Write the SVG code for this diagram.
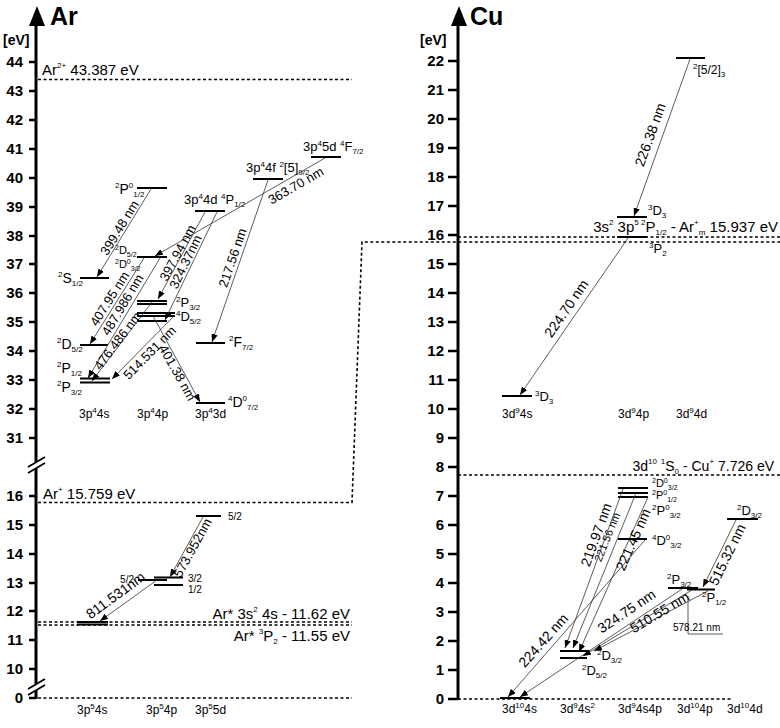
<svg xmlns="http://www.w3.org/2000/svg" width="780" height="728" viewBox="0 0 780 728">
<defs>
<marker id="ah" viewBox="0 0 10 8" refX="10" refY="4" markerWidth="8" markerHeight="6.4" markerUnits="userSpaceOnUse" orient="auto"><path d="M0,0 L10,4 L0,8 z" fill="#000"/></marker>
<style>
text{font-family:"Liberation Sans",Arial,sans-serif;fill:#000}
.ax{stroke:#000;stroke-width:3;fill:none}
.tk{stroke:#000;stroke-width:2.5}
.tl{font-size:15px;font-weight:bold;text-anchor:end}
.ttl{font-size:25px;font-weight:bold}
.ev{font-size:14px;font-weight:bold}
.lv{stroke:#000;stroke-width:2}
.tr{stroke:#333;stroke-width:0.8;fill:none;marker-end:url(#ah)}
.pl{stroke:#333;stroke-width:0.8;fill:none}
.dt{stroke:#000;stroke-width:1.6;stroke-dasharray:3 2.5;fill:none}
.t15{font-size:15px}
.t14{font-size:14px}
.t13{font-size:13px}
.t12{font-size:12px}
.t11{font-size:11px}
.t10{font-size:10px}
.s{font-size:8px}
.s7{font-size:7px}
.wl{font-size:13px;text-anchor:middle}
.ws{font-size:11px;text-anchor:middle}
.end{text-anchor:end}
</style>
</defs>

<g id="ar-axis">
<polygon points="37,6 29,26 45,26" fill="#000"/>
<path class="ax" d="M36,24 V462 M36,468 V684 M36,690 V699"/>
<path stroke="#000" stroke-width="1.8" d="M28,467 L45,457 M28,473 L45,463 M28,689 L45,679 M28,695 L45,685"/>
<text class="ttl" x="50" y="25">Ar</text>
<text class="ev" x="3" y="45">[eV]</text>
<path class="tk" d="M29,62H36 M29,91H36 M29,120H36 M29,149H36 M29,178H36 M29,207H36 M29,236H36 M29,264H36 M29,293H36 M29,322H36 M29,351H36 M29,380H36 M29,409H36 M29,438H36 M29,496H36 M29,525H36 M29,554H36 M29,583H36 M29,611H36 M29,640H36 M29,669H36 M29,698H36"/>
<g class="tl">
<text x="23" y="67">44</text><text x="23" y="96">43</text><text x="23" y="125">42</text><text x="23" y="154">41</text><text x="23" y="183">40</text><text x="23" y="212">39</text><text x="23" y="241">38</text><text x="23" y="269">37</text><text x="23" y="298">36</text><text x="23" y="327">35</text><text x="23" y="356">34</text><text x="23" y="385">33</text><text x="23" y="414">32</text><text x="23" y="443">31</text>
<text x="23" y="501">16</text><text x="23" y="530">15</text><text x="23" y="559">14</text><text x="23" y="588">13</text><text x="23" y="616">12</text><text x="23" y="645">11</text><text x="23" y="674">10</text><text x="23" y="703">0</text>
</g>
</g>

<g id="cu-axis">
<polygon points="459,6 451,26 467,26" fill="#000"/>
<path class="ax" d="M458,24 V700"/>
<text class="ttl" x="470" y="25">Cu</text>
<text class="ev" x="420" y="45">[eV]</text>
<path class="tk" d="M448,61H458 M448,90H458 M448,119H458 M448,148H458 M448,177H458 M448,206H458 M448,235H458 M448,264H458 M448,293H458 M448,322H458 M448,351H458 M448,380H458 M448,409H458 M448,438H458 M448,467H458 M448,496H458 M448,525H458 M448,554H458 M448,583H458 M448,612H458 M448,641H458 M448,670H458 M448,699H458"/>
<g class="tl">
<text x="444" y="66">22</text><text x="444" y="95">21</text><text x="444" y="124">20</text><text x="444" y="153">19</text><text x="444" y="182">18</text><text x="444" y="211">17</text><text x="444" y="240">16</text><text x="444" y="269">15</text><text x="444" y="298">14</text><text x="444" y="327">13</text><text x="444" y="356">12</text><text x="444" y="385">11</text><text x="444" y="414">10</text><text x="444" y="443">9</text><text x="444" y="472">8</text><text x="444" y="501">7</text><text x="444" y="530">6</text><text x="444" y="559">5</text><text x="444" y="588">4</text><text x="444" y="617">3</text><text x="444" y="646">2</text><text x="444" y="675">1</text><text x="444" y="704">0</text>
</g>
</g>

<g id="limits">
<path class="dt" d="M38,79.5H352"/>
<text class="t15" x="42" y="75">Ar<tspan class="s" dy="-7">2+</tspan><tspan dy="7"> 43.387 eV</tspan></text>
<path class="dt" d="M38,502.5H352L362,242H780"/>
<text class="t15" x="43" y="499">Ar<tspan class="s" dy="-7">+</tspan><tspan dy="7"> 15.759 eV</tspan></text>
<path class="dt" d="M38,622H352 M38,625H352"/>
<text class="t15 end" x="350" y="619">Ar* 3s<tspan class="s" dy="-7">2</tspan><tspan dy="7"> 4s - 11.62 eV</tspan></text>
<text class="t15 end" x="350" y="641">Ar* <tspan class="s" dy="-7">3</tspan><tspan dy="7">P</tspan><tspan class="s" dy="3">2</tspan><tspan dy="-3"> - 11.55 eV</tspan></text>
<path class="dt" d="M38,698H352"/>
<path class="dt" d="M458,237H780"/>
<text class="t15 end" x="778" y="232">3s<tspan class="s" dy="-7">2</tspan><tspan dy="7"> 3p</tspan><tspan class="s" dy="-7">5 2</tspan><tspan dy="7">P</tspan><tspan class="s" dy="3">1/2</tspan><tspan dy="-3"> - Ar</tspan><tspan class="s" dy="-7">+</tspan><tspan class="s" dy="10">m</tspan><tspan dy="-3"> 15.937 eV</tspan></text>
<path class="dt" d="M458,475H780"/>
<text class="t14 end" x="774" y="471">3d<tspan class="s" dy="-7">10</tspan><tspan dy="7"> </tspan><tspan class="s" dy="-7">1</tspan><tspan dy="7">S</tspan><tspan class="s" dy="3">0</tspan><tspan dy="-3"> - Cu</tspan><tspan class="s" dy="-7">+</tspan><tspan dy="7"> 7.726 eV</tspan></text>
<path class="dt" d="M458,699H733"/>
</g>

<g id="ar-levels">
<g id="ar-2P0-12"><path class="lv" d="M137,188H167"/><text class="t14" x="115" y="194"><tspan class="s" dy="-6">2</tspan><tspan dy="6">P</tspan><tspan class="s" dy="-6">0</tspan><tspan class="s" dy="9">1/2</tspan></text></g>
<g id="ar-2S12"><path class="lv" d="M80,278H109"/><text class="t14" x="58" y="283"><tspan class="s" dy="-6">2</tspan><tspan dy="6">S</tspan><tspan class="s" dy="3">1/2</tspan></text></g>
<g id="ar-2D0"><path class="lv" d="M137,257H167"/><text class="t11" x="115" y="254"><tspan class="s7" dy="-4">2</tspan><tspan dy="4">D</tspan><tspan class="s7" dy="3">5/2</tspan></text><text class="t11" x="115" y="268"><tspan class="s7" dy="-4">2</tspan><tspan dy="4">D</tspan><tspan class="s7" dy="-4">0</tspan><tspan class="s7" dy="7">3/2</tspan></text></g>
<g id="ar-4d-4P12"><path class="lv" d="M195,211H225"/><text class="t13" x="184" y="204">3p<tspan class="s" dy="-5">4</tspan><tspan dy="5">4d </tspan><tspan class="s" dy="-5">4</tspan><tspan dy="5">P</tspan><tspan class="s" dy="3">1/2</tspan></text></g>
<g id="ar-4f"><path class="lv" d="M253,179H283"/><text class="t13" x="246" y="172">3p<tspan class="s" dy="-5">4</tspan><tspan dy="5">4f </tspan><tspan class="s" dy="-5">2</tspan><tspan dy="5">[5]</tspan><tspan class="s" dy="3">9/2</tspan></text></g>
<g id="ar-5d-4F72"><path class="lv" d="M311,157H341"/><text class="t13" x="303" y="151">3p<tspan class="s" dy="-5">4</tspan><tspan dy="5">5d </tspan><tspan class="s" dy="-5">4</tspan><tspan dy="5">F</tspan><tspan class="s" dy="3">7/2</tspan></text></g>
<g id="ar-4p-group"><path class="lv" d="M137,301H167 M137,304H167 M137,313H175 M137,316H175 M137,321H167"/>
<text class="t13" x="176" y="307"><tspan class="s" dy="-5">2</tspan><tspan dy="5">P</tspan><tspan class="s" dy="3">3/2</tspan></text>
<text class="t13" x="176" y="321"><tspan class="s" dy="-5">4</tspan><tspan dy="5">D</tspan><tspan class="s" dy="3">5/2</tspan></text></g>
<g id="ar-4s-2D52"><path class="lv" d="M80,345H108"/><text class="t14" x="57" y="349"><tspan class="s" dy="-6">2</tspan><tspan dy="6">D</tspan><tspan class="s" dy="3">5/2</tspan></text></g>
<g id="ar-4s-2P"><path class="lv" d="M80,378.5H110 M80,382.5H110"/><text class="t14" x="57" y="373"><tspan class="s" dy="-6">2</tspan><tspan dy="6">P</tspan><tspan class="s" dy="3">1/2</tspan></text><text class="t14" x="57" y="392"><tspan class="s" dy="-6">2</tspan><tspan dy="6">P</tspan><tspan class="s" dy="3">3/2</tspan></text></g>
<g id="ar-3d-2F72"><path class="lv" d="M196,343H225"/><text class="t14" x="229" y="347"><tspan class="s" dy="-6">2</tspan><tspan dy="6">F</tspan><tspan class="s" dy="3">7/2</tspan></text></g>
<g id="ar-3d-4D72"><path class="lv" d="M196,403H225"/><text class="t14" x="228" y="407"><tspan class="s" dy="-6">4</tspan><tspan dy="6">D</tspan><tspan class="s" dy="-6">0</tspan><tspan class="s" dy="9">7/2</tspan></text></g>
<g id="ar-config-upper" class="t12"><text x="79" y="418">3p<tspan class="s" dy="-5">4</tspan><tspan dy="5">4s</tspan></text><text x="137" y="418">3p<tspan class="s" dy="-5">4</tspan><tspan dy="5">4p</tspan></text><text x="195" y="418">3p<tspan class="s" dy="-5">4</tspan><tspan dy="5">3d</tspan></text></g>
<g id="ar-5d-52"><path class="lv" d="M196,516H221"/><text class="t10" x="228" y="520">5/2</text></g>
<g id="ar-4p-lower"><path class="lv" d="M138,580H167 M154,577.5H183 M154,585H183"/><text class="t10 end" x="134" y="583">5/2</text><text class="t10" x="188" y="582">3/2</text><text class="t10" x="188" y="593">1/2</text></g>
<g id="ar-4s-lower"><path class="lv" d="M77,622H108 M77,624.5H108"/></g>
<g id="ar-config-lower" class="t12"><text x="77" y="714">3p<tspan class="s" dy="-5">5</tspan><tspan dy="5">4s</tspan></text><text x="146" y="714">3p<tspan class="s" dy="-5">5</tspan><tspan dy="5">4p</tspan></text><text x="195" y="714">3p<tspan class="s" dy="-5">5</tspan><tspan dy="5">5d</tspan></text></g>
</g>

<g id="cu-levels">
<g id="cu-5-2-3"><path class="lv" d="M676,58H705"/><text class="t12" x="693" y="74"><tspan class="s" dy="-5">2</tspan><tspan dy="5">[5/2]</tspan><tspan class="s" dy="3">3</tspan></text></g>
<g id="cu-3D3-up"><path class="lv" d="M617,217H647"/><text class="t13" x="648" y="215"><tspan class="s" dy="-5">3</tspan><tspan dy="5">D</tspan><tspan class="s" dy="3">3</tspan></text></g>
<g id="cu-3P2"><path class="lv" d="M617,237H647"/><text class="t13" x="649" y="253"><tspan class="s" dy="-5">3</tspan><tspan dy="5">P</tspan><tspan class="s" dy="3">2</tspan></text></g>
<g id="cu-3D3-low"><path class="lv" d="M502,396H532"/><text class="t13" x="535" y="401"><tspan class="s" dy="-5">3</tspan><tspan dy="5">D</tspan><tspan class="s" dy="3">3</tspan></text></g>
<g id="cu-config-mid" class="t12"><text x="502" y="418">3d<tspan class="s" dy="-5">9</tspan><tspan dy="5">4s</tspan></text><text x="618" y="418">3d<tspan class="s" dy="-5">9</tspan><tspan dy="5">4p</tspan></text><text x="676" y="418">3d<tspan class="s" dy="-5">9</tspan><tspan dy="5">4d</tspan></text></g>
<g id="cu-4s4p-group"><path class="lv" d="M618,488H648" stroke-width="3"/><path class="lv" d="M618,493H648 M618,497H648"/>
<text class="t11" x="652" y="487"><tspan class="s7" dy="-4">2</tspan><tspan dy="4">D</tspan><tspan class="s7" dy="-4">0</tspan><tspan class="s7" dy="7">3/2</tspan></text>
<text class="t11" x="652" y="499"><tspan class="s7" dy="-4">2</tspan><tspan dy="4">P</tspan><tspan class="s7" dy="-4">0</tspan><tspan class="s7" dy="7">1/2</tspan></text>
<text class="t13" x="652" y="515"><tspan class="s" dy="-5">2</tspan><tspan dy="5">P</tspan><tspan class="s" dy="-5">0</tspan><tspan class="s" dy="8">3/2</tspan></text></g>
<g id="cu-4D0"><path class="lv" d="M618,539H647"/><text class="t13" x="652" y="545"><tspan class="s" dy="-5">4</tspan><tspan dy="5">D</tspan><tspan class="s" dy="-5">0</tspan><tspan class="s" dy="8">3/2</tspan></text></g>
<g id="cu-4d-2D32"><path class="lv" d="M727,519H758"/><text class="t13" x="737" y="515"><tspan class="s" dy="-5">2</tspan><tspan dy="5">D</tspan><tspan class="s" dy="3">3/2</tspan></text></g>
<g id="cu-4p-2P32"><path class="lv" d="M668,588H698"/><text class="t13" x="667" y="584"><tspan class="s" dy="-5">2</tspan><tspan dy="5">P</tspan><tspan class="s" dy="3">3/2</tspan></text></g>
<g id="cu-4p-2P12"><path class="lv" d="M687,589.5H715"/><text class="t13" x="702" y="602"><tspan class="s" dy="-5">2</tspan><tspan dy="5">P</tspan><tspan class="s" dy="3">1/2</tspan></text></g>
<g id="cu-4s2-2D32"><path class="lv" d="M560,651H590"/><text class="t13" x="597" y="660"><tspan class="s" dy="-5">2</tspan><tspan dy="5">D</tspan><tspan class="s" dy="3">3/2</tspan></text></g>
<g id="cu-4s2-2D52"><path class="lv" d="M560,658H587"/><text class="t13" x="582" y="675"><tspan class="s" dy="-5">2</tspan><tspan dy="5">D</tspan><tspan class="s" dy="3">5/2</tspan></text></g>
<g id="cu-ground"><path class="lv" d="M500,698H530"/></g>
<g id="cu-config-low" class="t12"><text x="502" y="713">3d<tspan class="s" dy="-5">10</tspan><tspan dy="5">4s</tspan></text><text x="560" y="713">3d<tspan class="s" dy="-5">9</tspan><tspan dy="5">4s</tspan><tspan class="s" dy="-5">2</tspan></text><text x="618" y="713">3d<tspan class="s" dy="-5">9</tspan><tspan dy="5">4s4p</tspan></text><text x="677" y="713">3d<tspan class="s" dy="-5">10</tspan><tspan dy="5">4p</tspan></text><text x="727" y="713">3d<tspan class="s" dy="-5">10</tspan><tspan dy="5">4d</tspan></text></g>
</g>

<g id="connectors">
<path class="tr" d="M151,189L97,277"/>
<path class="tr" d="M144,258L90,344"/>
<path class="tr" d="M160,258L88,378"/>
<path class="tr" d="M152,302L92,381"/>
<path class="tr" d="M175,315L112,379"/>
<path class="tr" d="M153,316L200,402"/>
<path class="tr" d="M205,212L158,299"/>
<path class="tr" d="M217,212L165,320"/>
<path class="tr" d="M325,158L155,256"/>
<path class="tr" d="M268,180L212,342"/>
<path class="tr" d="M203,517L170,577"/>
<path class="tr" d="M157,580L100,621"/>
<path class="tr" d="M690,59L634,216"/>
<path class="tr" d="M628,238L520,395"/>
<path class="tr" d="M623,489L565,648"/>
<path class="tr" d="M636,493L573,648"/>
<path class="tr" d="M648,497L579,652"/>
<path class="tr" d="M645,540L508,697"/>
<path class="tr" d="M736,520L703,587"/>
<path class="tr" d="M682,589L520,697"/>
<path class="tr" d="M692,590L583,656"/>
<path class="tr" d="M708,591L594,651"/>
<path class="pl" d="M688,596V634H723"/>
</g>

<g id="wavelengths">
<text class="wl" transform="translate(120,228) rotate(-58.5)" y="4">399.48 nm</text>
<text class="wl" transform="translate(110,299) rotate(-57.6)" y="4">407.95 nm</text>
<text class="wl" transform="translate(123,305) rotate(-59)" y="4">487.986 nm</text>
<text class="wl" transform="translate(118,341) rotate(-52.8)" y="4">476.486 nm</text>
<text class="wl" transform="translate(150,353) rotate(-45.5)" y="4">514.531 nm</text>
<text class="wl" transform="translate(177,373) rotate(61)" y="4">401.38 nm</text>
<text class="wl" transform="translate(178,253) rotate(-61.6)" y="4">397.94 nm</text>
<text class="wl" transform="translate(186,262) rotate(-64)" y="4">324.37nm</text>
<text class="wl" transform="translate(296,186) rotate(-30)" y="4">363.70 nm</text>
<text class="wl" transform="translate(233,258) rotate(-71)" y="4">217.56 nm</text>
<text class="wl" transform="translate(193,548) rotate(-61)" y="4">573.952nm</text>
<text class="wl" style="font-size:14px" transform="translate(116,596) rotate(-36)" y="4">811.531nm</text>
<text class="wl" style="font-size:14px" transform="translate(651,135) rotate(-70)" y="4">226.38 nm</text>
<text class="wl" style="font-size:14px" transform="translate(567,309) rotate(-55.5)" y="4">224.70 nm</text>
<text class="wl" style="font-size:14px" transform="translate(597,535) rotate(-70)" y="4">219.97 nm</text>
<text class="ws" transform="translate(607,537) rotate(-68)" y="4">221.56 nm</text>
<text class="wl" style="font-size:14px" transform="translate(634,540) rotate(-66)" y="4">221.45 nm</text>
<text class="wl" style="font-size:14px" transform="translate(544,641) rotate(-48)" y="4">224.42 nm</text>
<text class="wl" style="font-size:14px" transform="translate(728,555) rotate(-64)" y="4">515.32 nm</text>
<text class="wl" style="font-size:14px" transform="translate(627,612) rotate(-34)" y="4">324.75 nm</text>
<text class="wl" style="font-size:14px" transform="translate(660,613) rotate(-31)" y="4">510.55 nm</text>
<text class="t10" x="673" y="631">578.21 nm</text>
</g>
</svg>
